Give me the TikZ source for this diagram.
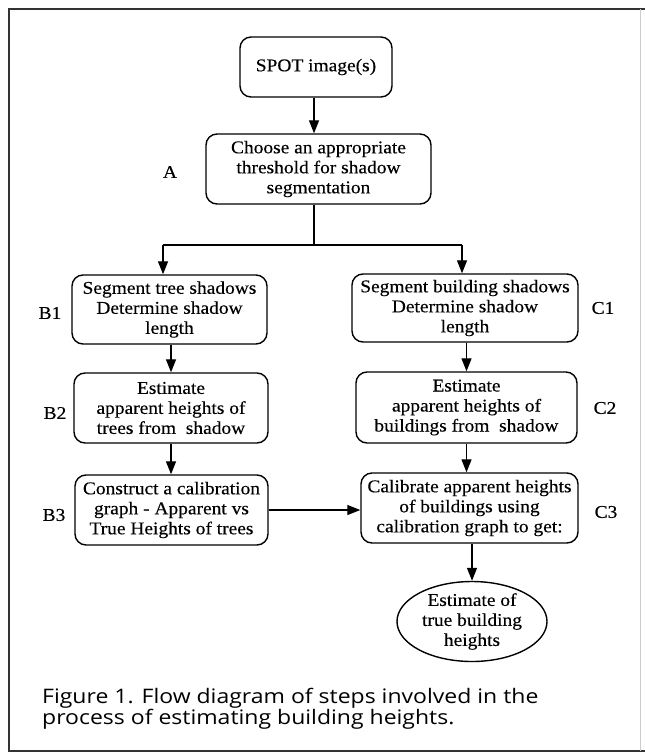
\documentclass[tikz,border=0pt]{standalone}
\usepackage{fontspec}
\setmainfont{Liberation Serif}[FakeStretch=1.08,FakeBold=0.3]
\newfontfamily\capfont{Open Sans}[FakeStretch=1.15]
\usetikzlibrary{shapes.geometric,arrows.meta}
\begin{document}
\begin{tikzpicture}[x=1pt,y=-1pt,
  box/.style={draw, rounded corners=11pt, line width=1.4pt, align=center, inner sep=0pt,
    font=\fontsize{18}{20}\selectfont},
  oval/.style={draw, ellipse, line width=1.4pt, align=center, inner sep=0pt,
    font=\fontsize{18}{20}\selectfont},
  lbl/.style={font=\fontsize{18}{20}\selectfont, inner sep=0pt},
  arr/.style={line width=1.3pt, -{Triangle[length=13pt,width=10pt]}},
  ln/.style={line width=1.3pt}]
\useasboundingbox (0,0) rectangle (645,753);
\fill[white] (0,0) rectangle (645,753);
% frame
\draw[line width=1.3pt, black!80] (645,9) -- (9,9) -- (9,751) -- (645,751);
\draw[line width=0.8pt, black!20] (640,9) -- (640,751);

\node[box, minimum width=152pt, minimum height=60pt] (spot) at (316,67) {SPOT image(s)};
\node[box, minimum width=225pt, minimum height=70pt] (a) at (318.5,169)
  {Choose an appropriate\\threshold for shadow\\segmentation};
\node[box, minimum width=195pt, minimum height=69pt] (b1) at (169.5,309.5)
  {Segment tree shadows\\Determine shadow\\length};
\node[box, minimum width=226pt, minimum height=68pt] (c1) at (465,308)
  {Segment building shadows\\Determine shadow\\length};
\node[box, minimum width=194pt, minimum height=70pt] (b2) at (171,408)
  {Estimate\\apparent heights of\\trees from\ \ shadow};
\node[box, minimum width=221pt, minimum height=71pt] (c2) at (466.5,407.5)
  {Estimate\\apparent heights of\\buildings from\ \ shadow};
\node[box, minimum width=193pt, minimum height=70pt] (b3) at (171.5,510)
  {Construct a calibration\\graph - Apparent vs\\True Heights of trees};
\node[box, minimum width=217pt, minimum height=70pt] (c3) at (469.5,508)
  {Calibrate apparent heights\\of buildings using\\calibration graph to get:};
\node[oval, minimum width=150pt, minimum height=73pt] (est) at (472,621.5)
  {Estimate of\\true building\\heights};

\node[lbl] (la) at (170,172) {A};
\node[lbl] (lb1) at (50,313) {B1};
\node[lbl] (lb2) at (55,413) {B2};
\node[lbl] (lb3) at (54,515) {B3};
\node[lbl] (lc1) at (603,308) {C1};
\node[lbl] (lc2) at (605,408) {C2};
\node[lbl] (lc3) at (606,512) {C3};

% connectors
\coordinate (sp) at (314,245);
\coordinate (spl) at (163,245);
\coordinate (spr) at (462,245);
\draw[arr] (spot.south -| sp) -- (a.north -| sp);
\draw[ln] (a.south -| sp) -- (sp);
\draw[ln] (spl) -- (spr);
\draw[arr] (spl) -- (spl |- b1.north);
\draw[arr] (spr) -- (spr |- c1.north);
\draw[arr] (b1.south -| b2.north) -- (b2.north);
\draw[arr] (b2.south) -- (b2.south |- b3.north);
\draw[arr] (c1.south -| c2.north) -- (c2.north);
\draw[arr] (c2.south) -- (c2.south |- c3.north);
\draw[arr] (c3.south -| est.north) -- (est.north);
\draw[arr] (b3.east) -- (b3.east -| c3.west);

\node[anchor=base west, align=left, inner sep=0pt,
  font=\capfont\fontsize{20}{21}\selectfont] (cap) at (42,724)
  {Figure 1. Flow diagram of steps involved in the\\process of estimating building heights.};
\end{tikzpicture}
\end{document}
